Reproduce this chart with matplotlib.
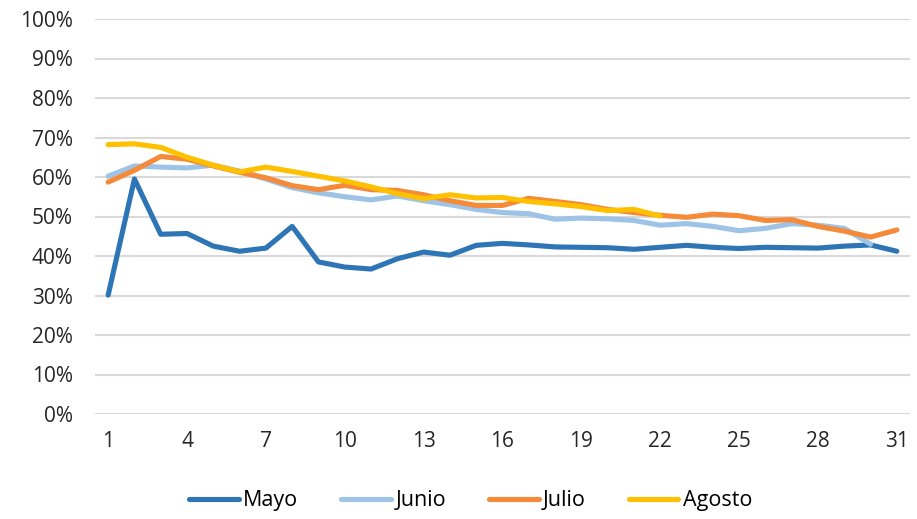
import matplotlib.pyplot as plt

# porcentaje diario por mes
mayo = [30.1, 59.5, 45.5, 45.7, 42.5, 41.2, 42.0, 47.5, 38.5, 37.2, 36.7, 39.3, 41.0, 40.2, 42.7,
        43.2, 42.8, 42.3, 42.2, 42.1, 41.7, 42.2, 42.7, 42.2, 41.9, 42.2, 42.1, 42.0, 42.5, 42.8, 41.2]
junio = [60.2, 62.8, 62.5, 62.3, 63.0, 61.5, 59.5, 57.3, 56.0, 55.0, 54.2, 55.2, 54.0, 53.0, 51.8,
         51.0, 50.7, 49.3, 49.6, 49.4, 49.0, 47.8, 48.2, 47.5, 46.4, 47.0, 48.2, 47.8, 47.0, 43.0]
julio = [58.7, 61.7, 65.2, 64.5, 62.8, 61.2, 59.8, 57.8, 56.8, 57.9, 56.8, 56.6, 55.5, 54.0, 52.8,
         52.8, 54.6, 53.8, 53.0, 51.8, 51.0, 50.3, 49.8, 50.6, 50.2, 49.0, 49.2, 47.5, 46.3, 44.8, 46.6]
agosto = [68.2, 68.4, 67.5, 65.0, 63.0, 61.3, 62.5, 61.4, 60.2, 59.0, 57.5, 55.8, 54.5, 55.5, 54.7,
          54.8, 53.8, 53.2, 52.5, 51.5, 51.8, 50.1]

series = [('Mayo', mayo, '#2E75B6'), ('Junio', junio, '#9DC3E6'),
          ('Julio', julio, '#F58A38'), ('Agosto', agosto, '#FFC000')]
xticks = list(range(1, 32, 3))
yticks = list(range(0, 101, 10))

plt.rcParams['font.family'] = ['Open Sans', 'DejaVu Sans']

fig = plt.figure(figsize=(9.17, 5.19), dpi=100)
ax = fig.add_axes([95 / 917, 1 - 414 / 519, 815 / 917, 395 / 519])

for name, vals, color in series:
    ax.plot(range(1, len(vals) + 1), vals, color=color, lw=3.7, label=name,
            solid_capstyle='round', solid_joinstyle='round')

ax.set_xlim(0.5, 31.5)
ax.set_ylim(0, 100)
ax.set_xticks(xticks)
ax.set_yticks(yticks)
ax.set_yticklabels([f'{v}%' for v in yticks])
ax.grid(axis='y', color='#d9d9d9', lw=1.5)
ax.set_axisbelow(True)
for s in ax.spines.values():
    s.set_visible(False)
ax.tick_params(length=0, labelsize=15, colors='#262626')
ax.tick_params(axis='x', pad=12)
ax.tick_params(axis='y', pad=16)

ax.legend(loc='center', bbox_to_anchor=(0.461, -0.22), ncol=4, frameon=False,
          fontsize=15.5, handlelength=2.3, handletextpad=0.2, columnspacing=2.0)

fig.savefig('out.png', dpi=100)
